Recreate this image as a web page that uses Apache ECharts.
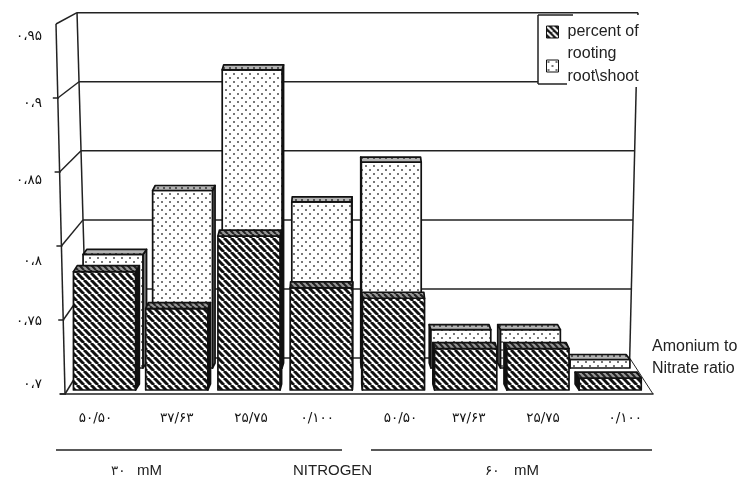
<!DOCTYPE html>
<html><head><meta charset="utf-8">
<style>html,body{margin:0;padding:0;background:#fff}#c{width:737px;height:481px}</style>
<script src="https://cdn.jsdelivr.net/npm/echarts@6/dist/echarts.min.js"></script>
</head><body><div id="c"></div>
<script>
const categories = ['۵۰/۵۰','۳۷/۶۳','۲۵/۷۵','۰/۱۰۰','۵۰/۵۰','۳۷/۶۳','۲۵/۷۵','۰/۱۰۰'];
const yTickLabels = ['۰،۷','۰،۷۵','۰،۸','۰،۸۵','۰،۹','۰،۹۵'];
const percentOfRooting = [0.780,0.755,0.804,0.769,0.762,0.728,0.728,0.708];
const rootShoot = [0.780,0.825,0.910,0.817,0.845,0.727,0.727,0.706];
const nameFront = 'percent of\nrooting';
const nameRear = 'root\\shoot';
const sansFont = '"Liberation Sans", Arial, sans-serif';
const digitFont = '"DejaVu Sans", sans-serif';

function makePattern(size, draw){
  const c = document.createElement('canvas');
  c.width = c.height = size;
  draw(c.getContext('2d'), size);
  return {image: c, repeat: 'repeat'};
}
function hatch(g, s){
  g.fillStyle='#fff'; g.fillRect(0,0,s,s);
  g.strokeStyle='#111'; g.lineWidth=3;
  for(let k=-s;k<=s;k+=s){ g.beginPath(); g.moveTo(k,0); g.lineTo(k+s,s); g.stroke(); }
}
const hatchFill = makePattern(7, hatch);
const hatchCap = makePattern(6, (g,s)=>{
  g.fillStyle='#999'; g.fillRect(0,0,s,s);
  g.strokeStyle='#222'; g.lineWidth=2.2;
  for(let k=-s;k<=s;k+=s){ g.beginPath(); g.moveTo(k,0); g.lineTo(k+s,s); g.stroke(); }
});
const dotFill = makePattern(8, (g,s)=>{
  g.fillStyle='#fff'; g.fillRect(0,0,s,s);
  g.fillStyle='#777'; g.fillRect(1,1,2,2); g.fillRect(5,5,2,2);
});
const dotCap = makePattern(6, (g,s)=>{
  g.fillStyle='#b4b4b4'; g.fillRect(0,0,s,s);
  g.fillStyle='#555'; g.fillRect(1,1,2,2);
});
const hatchLegend = makePattern(6, (g,s)=>{
  g.fillStyle='#111'; g.fillRect(0,0,s,s);
  g.strokeStyle='#fff'; g.lineWidth=2;
  for(let k=-s;k<=s;k+=s){ g.beginPath(); g.moveTo(k,0); g.lineTo(k+s,s); g.stroke(); }
});

function barRenderer(face, cap, capH, side){
  return function(params, api){
    const i = api.value(0), top = api.coord([i, api.value(1)]), base = api.coord([i, 0.7]);
    const w = api.size([1,0])[0]*0.86, cx = top[0];
    const x0 = cx-w/2, x1 = cx+w/2, yT = top[1], yB = base[1];
    const dx = (350-cx)/65;
    const line = {stroke:'#111', lineWidth:1.7, lineJoin:'round'};
    const kids = [];
    const sx = dx>0 ? x1 : x0;
    kids.push({type:'polygon', shape:{points:[[sx,yT],[sx+dx,yT-capH],[sx+dx,yB-capH],[sx,yB]]}, style:{fill:side, ...line}});
    kids.push({type:'rect', shape:{x:x0,y:yT,width:w,height:yB-yT}, style:{fill:face, ...line}});
    kids.push({type:'polygon', shape:{points:[[x0,yT],[x0+dx,yT-capH],[x1+dx,yT-capH],[x1,yT]]}, style:{fill:cap, ...line}});
    return {type:'group', children:kids};
  };
}

// per-label nudges (the original labels are unevenly placed)
const xNudge = [-9,0,2,-4,7,3,5,15];
const yNudge = [-10,1,15,8,5,12];
const rich = {};
yNudge.forEach((d,i)=>{
  rich['t'+i] = {fontFamily:digitFont, fontSize:13.5, color:'#111',
    padding: d>0 ? [2*d,0,0,0] : [0,0,-2*d,0]};
});

const chart = echarts.init(document.getElementById('c'), null, {renderer:'canvas'});
const hiddenCat = (gridIndex, extra) => Object.assign({
  type:'category', gridIndex, data:categories, show:true,
  axisLine:{show:false}, axisTick:{show:false}, axisLabel:{show:false}, splitLine:{show:false}
}, extra||{});
const val = (gridIndex, extra) => Object.assign({
  type:'value', gridIndex, min:0.7, max:0.95, interval:0.05,
  axisLine:{show:false}, axisTick:{show:false}, axisLabel:{show:false}, splitLine:{show:false}
}, extra||{});

chart.setOption({
  animation:false,
  backgroundColor:'#fff',
  textStyle:{fontFamily:sansFont},
  grid:[
    {left:60, top:24, width:593, height:370},
    {left:80, top:12.7, width:552, height:345.3},
    {left:78.2, top:13, width:556.6, height:355},
    {left:68.4, top:20, width:577.9, height:370}
  ],
  xAxis:[
    hiddenCat(0,{axisLine:{show:true,lineStyle:{color:'#222',width:1.6}}}),
    hiddenCat(1),
    hiddenCat(2),
    hiddenCat(3,{data:categories.map((c,i)=>({value:c,textStyle:{
      padding: xNudge[i]>0 ? [0,0,0,2*xNudge[i]] : [0,-2*xNudge[i],0,0]}})),
      axisLabel:{show:true, interval:0, margin:21, fontFamily:digitFont, fontSize:13.5, color:'#111'}})
  ],
  yAxis:[
    val(0,{axisLabel:{show:true, margin:18, formatter:(v,i)=>`{t${i}|${yTickLabels[i]}}`, rich}}),
    val(1), val(2), val(3)
  ],
  legend:{
    orient:'vertical', left:546, top:-1, padding:0, itemWidth:12, itemHeight:12, itemGap:-21, z:6,
    selectedMode:false,
    formatter:name=>'\n'+name,
    textStyle:{fontFamily:sansFont, fontSize:16, color:'#222', lineHeight:22, padding:[0,0,0,4]},
    data:[
      {name:nameFront, icon:'rect', itemStyle:{color:hatchLegend, borderColor:'#111', borderWidth:1}},
      {name:nameRear, icon:'rect', itemStyle:{color:dotFill, borderColor:'#111', borderWidth:1}}
    ]
  },
  series:[
    {name:nameRear, type:'custom', xAxisIndex:2, yAxisIndex:2, clip:false, z:3,
     encode:{x:0,y:1}, data:rootShoot.map((v,i)=>[i,v]), renderItem:barRenderer(dotFill,dotCap,5,'#777')},
    {name:nameFront, type:'custom', xAxisIndex:3, yAxisIndex:3, clip:false, z:4,
     encode:{x:0,y:1}, data:percentOfRooting.map((v,i)=>[i,v]), renderItem:barRenderer(hatchFill,hatchCap,6,'#111')}
  ]
});

// 3-D frame: walls, gridlines and slanted connectors follow the axes' scales
const ticks = [0.7,0.75,0.8,0.85,0.9,0.95];
const frontY = v => chart.convertToPixel({yAxisIndex:0}, v);
const wallY = v => chart.convertToPixel({yAxisIndex:1}, v);
const frontX = y => 56+(y-24)*0.0244;
const wallL = y => 77+(y-12)*0.029;
const wallR = y => 638-(y-12)*0.024;
const L = (x1,y1,x2,y2,z,w) => ({type:'line', z:z||1, shape:{x1,y1,x2,y2}, style:{stroke:'#222', lineWidth:w||1.5}});
const T = (text,x,y,font,size,align) => ({type:'text', z:7, x, y, style:{text, fill:'#222', font:`${size}px ${font}`, textAlign:align||'left', textVerticalAlign:'middle'}});
const g = [];
g.push(L(frontX(24),24,frontX(394),394,2));
g.push(L(wallL(12.7),12.7,wallL(358),358,1));
g.push(L(wallR(12.7),12.7,wallR(358),358,1));
ticks.forEach(v=>{
  const fy=frontY(v), wy=wallY(v);
  g.push(L(wallL(wy),wy,wallR(wy),wy,1));
  g.push(L(frontX(fy),fy,wallL(wy),wy,1));
  if(v<0.94) g.push(L(frontX(fy)-5,fy,frontX(fy)+1,fy,2));
});
g.push(L(wallR(358),358,653,394,1,1));
// legend panel
g.push({type:'rect', z:5, shape:{x:538,y:15,width:112,height:72}, style:{fill:'#fff'}});
g.push(L(538,15,573,15,5)); g.push(L(538,15,538,84,5)); g.push(L(538,84,567,84,5));
g.push(T('Amonium to',652,347,sansFont,16));
g.push(T('Nitrate ratio',652,369,sansFont,16));
g.push(L(56,450,342,450,2)); g.push(L(371,450,652,450,2));
g.push(T('۳۰',111,471,digitFont,13.5)); g.push(T('mM',137,471,sansFont,15));
g.push(T('NITROGEN',293,471,sansFont,15));
g.push(T('۶۰',485,471,digitFont,13.5)); g.push(T('mM',514,471,sansFont,15));
chart.setOption({graphic:g});
</script></body></html>
